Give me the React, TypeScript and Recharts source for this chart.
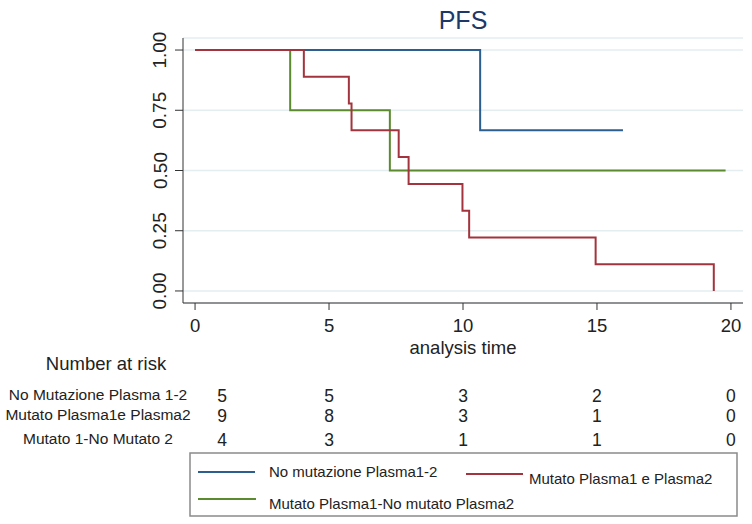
import React from "react";
import { LineChart, Line, XAxis, YAxis, CartesianGrid } from "recharts";

// ---- data ----
const seriesNames = [
  "No mutazione Plasma1-2",
  "Mutato Plasma1 e Plasma2",
  "Mutato Plasma1-No mutato Plasma2",
];
const blueTimes = [0, 10.64, 15.97];
const blueSurv = [1, 0.667, 0.667];
const redTimes = [0, 4.06, 5.74, 5.84, 7.6, 7.97, 9.98, 10.23, 14.95, 19.36];
const redSurv = [1, 0.889, 0.778, 0.667, 0.556, 0.444, 0.333, 0.222, 0.111, 0];
const greenTimes = [0, 3.55, 7.27, 19.8];
const greenSurv = [1, 0.75, 0.5, 0.5];

const xTicks = [0, 5, 10, 15, 20];
const yTicks = [0, 0.25, 0.5, 0.75, 1];

const riskTimes = [0, 5, 10, 15, 20];
const riskLabels = ["No Mutazione Plasma 1-2", "Mutato Plasma1e Plasma2", "Mutato 1-No Mutato 2"];
const riskBlue = [5, 5, 3, 2, 0];
const riskRed = [9, 8, 3, 1, 0];
const riskGreen = [4, 3, 1, 1, 0];

const title = "PFS";
const xLabel = "analysis time";
const riskTitle = "Number at risk";

// ---- styles ----
const W = 752;
const H = 524;
const PLOT = { left: 183, right: 743, top: 38, bottom: 303 };
const XDOM: [number, number] = [-0.45, 20.45];
const YDOM: [number, number] = [-0.05, 1.05];
const COLORS = ["#2c5f8f", "#a3343d", "#5b8a2f"];
const FONT = "'Liberation Sans', Arial, sans-serif";

const toData = (t: number[], s: number[]) => t.map((x, i) => ({ t: x, s: s[i] }));
const blueData = toData(blueTimes, blueSurv);
const redData = toData(redTimes, redSurv);
const greenData = toData(greenTimes, greenSurv);

const xPix = (t: number) =>
  PLOT.left + ((t - XDOM[0]) / (XDOM[1] - XDOM[0])) * (PLOT.right - PLOT.left);

const YTick = (props: any) => {
  const { x, y, payload } = props;
  const cx = x - 13;
  return (
    <text
      x={cx}
      y={y}
      transform={`rotate(-90, ${cx}, ${y})`}
      textAnchor="middle"
      dominantBaseline="central"
      fontFamily={FONT}
      fontSize={19}
      fill="#222"
    >
      {Number(payload.value).toFixed(2)}
    </text>
  );
};

const XTick = (props: any) => {
  const { x, y, payload } = props;
  return (
    <text x={x} y={y + 13} textAnchor="middle" dominantBaseline="central" fontFamily={FONT} fontSize={18.5} fill="#222">
      {payload.value}
    </text>
  );
};

export default function App() {
  const riskCounts = [riskBlue, riskRed, riskGreen];
  const rowY = [394, 414, 438];
  return (
    <div style={{ position: "absolute", left: 0, top: 0, width: W, height: H, background: "#fff" }}>
      <LineChart
        width={W}
        height={H}
        margin={{ top: PLOT.top, right: W - PLOT.right, left: PLOT.left - 60, bottom: H - PLOT.bottom - 30 }}
      >
        <CartesianGrid horizontal vertical={false} stroke="#e4eef1" strokeWidth={1.5} />
        <XAxis
          type="number"
          dataKey="t"
          domain={XDOM}
          ticks={xTicks}
          allowDataOverflow
          height={30}
          tickSize={7}
          stroke="#333"
          tickLine={{ stroke: "#333" }}
          tick={<XTick />}
        />
        <YAxis
          type="number"
          dataKey="s"
          domain={YDOM}
          ticks={yTicks}
          allowDataOverflow
          width={60}
          tickSize={8}
          stroke="#333"
          tickLine={{ stroke: "#333" }}
          tick={<YTick />}
        />
        <Line data={blueData} dataKey="s" type="stepAfter" stroke={COLORS[0]} strokeWidth={2} dot={false} isAnimationActive={false} />
        <Line data={greenData} dataKey="s" type="stepAfter" stroke={COLORS[2]} strokeWidth={2} dot={false} isAnimationActive={false} />
        <Line data={redData} dataKey="s" type="stepAfter" stroke={COLORS[1]} strokeWidth={2} dot={false} isAnimationActive={false} />
      </LineChart>
      <svg width={W} height={H} style={{ position: "absolute", left: 0, top: 0, pointerEvents: "none" }}>
        <text x={xPix(10)} y={20} textAnchor="middle" dominantBaseline="central" fontFamily={FONT} fontSize={25} fill="#1e3868">
          {title}
        </text>
        <text x={xPix(10)} y={347} textAnchor="middle" dominantBaseline="central" fontFamily={FONT} fontSize={18.5} fill="#222">
          {xLabel}
        </text>
        <text x={106} y={363} textAnchor="middle" dominantBaseline="central" fontFamily={FONT} fontSize={18.5} fill="#222">
          {riskTitle}
        </text>
        {riskLabels.map((lab, r) => (
          <g key={lab}>
            <text x={98} y={rowY[r]} textAnchor="middle" dominantBaseline="central" fontFamily={FONT} fontSize={15.5} fill="#222">
              {lab}
            </text>
            {riskTimes.map((t, i) => (
              <text
                key={t}
                x={xPix(t) + (i === 0 ? 27 : 0)}
                y={rowY[r] + 2}
                textAnchor="middle"
                dominantBaseline="central"
                fontFamily={FONT}
                fontSize={17.5}
                fill="#222"
              >
                {riskCounts[r][i]}
              </text>
            ))}
          </g>
        ))}
        <rect x={190} y={453} width={547} height={63} fill="none" stroke="#8a8a8a" strokeWidth={1.5} />
        <line x1={198} x2={255} y1={472} y2={472} stroke={COLORS[0]} strokeWidth={2} />
        <text x={269} y={471} dominantBaseline="central" fontFamily={FONT} fontSize={15} fill="#222">
          {seriesNames[0]}
        </text>
        <line x1={466} x2={523} y1={474} y2={474} stroke={COLORS[1]} strokeWidth={2} />
        <text x={529} y={478} dominantBaseline="central" fontFamily={FONT} fontSize={15} fill="#222">
          {seriesNames[1]}
        </text>
        <line x1={198} x2={256} y1={499} y2={499} stroke={COLORS[2]} strokeWidth={2} />
        <text x={269} y={503} dominantBaseline="central" fontFamily={FONT} fontSize={15} fill="#222">
          {seriesNames[2]}
        </text>
      </svg>
    </div>
  );
}
